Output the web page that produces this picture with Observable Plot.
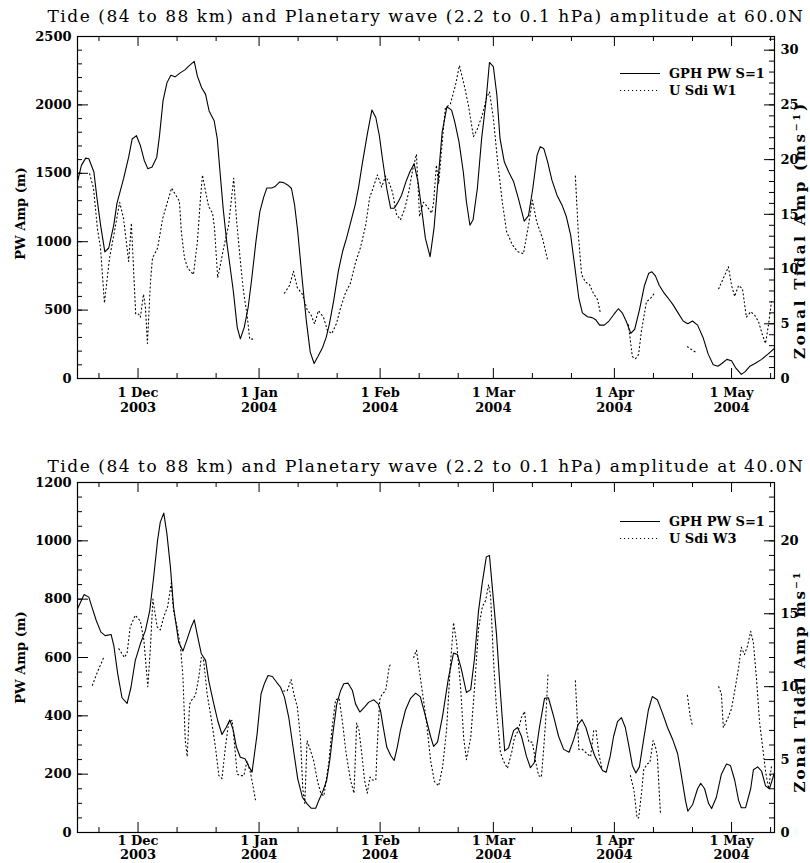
<!DOCTYPE html>
<html>
<head>
<meta charset="utf-8">
<script src="https://cdn.jsdelivr.net/npm/d3@7"></script>
<script src="https://cdn.jsdelivr.net/npm/@observablehq/plot@0.6"></script>
<style>
html,body{margin:0;padding:0;background:#fff;}
body{position:relative;width:810px;height:863px;overflow:hidden;font-family:"DejaVu Serif",serif;color:#000;}
.panel{position:absolute;left:0;}
.title{position:absolute;left:0;width:852px;text-align:center;white-space:nowrap;font-family:"DejaVu Serif",serif;font-size:17px;line-height:20px;}
.legend{position:absolute;left:612px;overflow:visible;}
</style>
</head>
<body>
<div id="p1" class="panel" style="top:0px"></div>
<div id="p2" class="panel" style="top:440px"></div>
<div id="t1" class="title" style="top:6px">Tide (84 to 88 km) and Planetary wave (2.2 to 0.1 hPa) amplitude at 60.0N</div>
<div id="t2" class="title" style="top:456px">Tide (84 to 88 km) and Planetary wave (2.2 to 0.1 hPa) amplitude at 40.0N</div>
<script>
// ---- data: [days since 1 Dec 2003, value]; null marks a gap in the record ----
const pw60 = [[-15.5,1440],[-14.5,1558],[-13.4,1611],[-12.6,1606],[-11.3,1509],[-10.5,1316],[-9.6,1123],[-8.5,925],[-7.5,954],[-6.2,1123],[-5.4,1280],[-3.7,1461],[-2.4,1618],[-1.5,1751],[-0.4,1775],[0.6,1703],[1.6,1594],[2.5,1534],[3.6,1546],[4.8,1618],[5.5,1775],[6.4,2029],[7.4,2161],[8.4,2217],[9.5,2205],[10.8,2234],[12.1,2258],[12.9,2282],[14.4,2318],[15.2,2210],[16.3,2125],[17.3,2077],[18.2,1956],[19.5,1884],[20.3,1751],[21.0,1509],[21.8,1244],[22.7,1002],[23.5,833],[24.4,640],[25.4,374],[26.2,290],[27.2,374],[28.2,519],[29.1,724],[30.2,1002],[31.2,1220],[32.2,1328],[33.0,1393],[34.2,1393],[35.0,1401],[36.3,1437],[37.3,1432],[38.4,1413],[39.3,1389],[40.1,1268],[40.9,1075],[42.0,737],[43.1,423],[44.1,193],[45.1,110],[46.0,157],[47.3,229],[48.2,302],[49.0,398],[50.1,568],[51.3,785],[52.4,930],[53.4,1026],[54.5,1147],[55.6,1268],[56.5,1401],[57.5,1582],[58.8,1799],[59.9,1963],[60.9,1908],[61.8,1775],[62.6,1606],[63.7,1389],[64.7,1244],[65.6,1244],[66.4,1280],[67.5,1340],[68.6,1437],[69.6,1509],[70.7,1570],[71.7,1438],[72.5,1267],[73.6,1024],[74.8,890],[75.8,1097],[76.8,1438],[77.9,1803],[79.1,1986],[80.3,1962],[81.1,1877],[82.2,1730],[83.3,1511],[84.1,1292],[85.0,1120],[85.8,1160],[86.9,1389],[88.0,1755],[89.1,2023],[90.0,2310],[91.0,2279],[91.9,2072],[92.7,1755],[93.8,1584],[94.9,1511],[96.2,1438],[97.4,1316],[98.9,1150],[100.0,1190],[101.1,1389],[102.2,1633],[103.0,1694],[103.9,1682],[104.9,1584],[106.0,1450],[107.3,1340],[108.6,1267],[109.7,1182],[110.8,1048],[111.8,829],[112.9,585],[113.8,480],[115.1,451],[116.3,445],[117.2,430],[118.2,390],[119.4,390],[120.6,420],[121.9,470],[123.0,510],[124.0,480],[125.0,420],[126.2,330],[127.2,360],[128.4,500],[129.7,680],[130.8,770],[131.6,780],[132.5,750],[133.5,680],[134.6,630],[135.7,590],[137.0,540],[138.3,480],[139.6,420],[140.8,400],[142.0,420],[143.3,390],[144.7,300],[146.0,180],[147.3,100],[148.5,90],[149.5,110],[150.8,140],[152.0,130],[153.0,80],[154.5,30],[155.5,50],[156.7,90],[158.0,110],[159.7,140],[161.4,180],[163.0,220]];

const tide60 = [[-12.4,18.7],[-11.4,17.4],[-10.4,13.7],[-9.6,11.9],[-8.6,6.9],[-7.3,11.0],[-6.0,13.5],[-4.7,16.1],[-3.7,14.6],[-2.4,10.7],[-1.7,14.2],[-0.6,5.9],[0.1,5.9],[0.6,5.6],[1.4,7.7],[1.9,6.5],[2.4,3.2],[3.2,8.9],[3.7,11.0],[5.0,11.9],[6.3,14.6],[7.6,16.2],[8.6,17.4],[9.6,16.8],[10.6,16.2],[11.1,13.4],[11.9,11.0],[12.7,10.1],[13.4,9.8],[14.2,9.5],[15.2,12.5],[16.0,16.5],[16.5,18.6],[17.3,17.1],[18.1,15.7],[19.1,15.1],[19.6,13.7],[20.4,9.2],[21.1,10.4],[21.9,11.9],[23.2,14.0],[24.5,18.3],[25.2,14.6],[26.3,10.4],[27.0,8.0],[28.0,5.6],[28.6,3.6],[29.8,3.6],
[33,null],
[37.5,7.8],[38.8,8.5],[39.8,9.8],[40.8,8.3],[42.1,7.7],[43.4,6.2],[44.2,5.9],[45.2,5.0],[46.2,6.2],[47.5,5.6],[48.5,4.4],[49.6,4.1],[50.8,5.0],[51.9,6.5],[53.1,7.8],[54.4,8.7],[55.7,10.6],[57.0,12.0],[58.3,14.0],[59.3,16.5],[60.3,17.5],[61.3,18.6],[62.4,17.5],[63.4,18.5],[64.4,17.8],[65.2,17.0],[66.2,15.0],[67.2,14.5],[68.3,15.5],[69.3,17.0],[70.3,19.0],[71.3,20.5],[72.1,14.8],[73.1,16.1],[74.1,15.7],[75.2,15.1],[75.7,16.1],[76.4,19.5],[77.0,17.8],[78.0,22.0],[78.7,24.7],[80.0,25.1],[81.3,26.8],[82.3,28.6],[83.6,26.7],[84.6,25.0],[85.9,22.1],[86.9,22.8],[88.2,24.1],[89.2,25.6],[90.0,26.2],[91.0,23.8],[92.1,19.8],[93.3,16.1],[94.4,13.4],[95.9,12.2],[97.2,11.6],[98.7,11.4],[100.0,14.0],[101.0,16.3],[102.1,14.3],[103.6,12.8],[104.9,10.8],
[108,null],
[112.0,18.5],[112.8,13.0],[113.6,9.5],[114.6,8.8],[115.6,8.6],[116.6,7.8],[117.7,7.2],[118.4,6.0],
[122,null],
[125.6,4.9],[126.6,2.0],[127.4,1.8],[128.2,2.2],[128.9,4.3],[130.2,7.0],[131.2,7.3],[132.5,7.9],
[136,null],
[140.7,2.9],[142.8,2.4],
[145,null],
[148.7,8.2],[149.7,9.0],[151.2,10.2],[152.0,8.5],[152.8,7.5],[153.8,8.5],[154.8,8.2],[155.8,5.6],[156.9,6.1],[157.9,5.8],[158.9,5.2],[159.9,4.0],[160.7,3.2],[161.5,5.0],[162.2,7.0]];

const pw40 = [[-15.5,767],[-13.8,816],[-12.6,807],[-11.8,773],[-10.7,727],[-9.5,687],[-8.4,675],[-6.9,679],[-6.2,641],[-5.2,544],[-4.1,462],[-2.8,443],[-1.8,498],[-0.7,590],[0.6,647],[1.9,693],[3.0,761],[4.0,875],[5.0,1001],[5.7,1064],[6.6,1095],[7.4,1024],[8.3,910],[9.1,773],[10.4,653],[11.5,622],[12.6,664],[13.6,704],[14.4,729],[15.3,670],[16.2,613],[17.3,590],[18.1,521],[19.2,453],[20.4,384],[21.5,336],[22.6,361],[23.5,386],[24.4,350],[25.2,293],[26.2,258],[27.4,253],[28.4,226],[29.2,207],[30.5,338],[31.5,475],[32.4,512],[33.3,538],[34.4,535],[35.5,515],[36.5,498],[37.5,464],[38.6,395],[39.7,293],[40.9,184],[42.1,121],[43.3,98],[44.4,83],[45.5,83],[46.3,110],[47.4,144],[48.3,178],[49.1,247],[50.0,350],[50.9,441],[51.9,487],[52.7,510],[53.8,512],[54.9,487],[55.7,441],[56.8,413],[58.0,430],[59.1,447],[60.4,455],[61.5,441],[62.1,418],[62.8,361],[63.7,293],[64.7,264],[65.6,247],[66.4,293],[67.2,350],[68.5,420],[69.8,460],[71.1,478],[72.3,465],[73.6,400],[74.9,330],[75.7,295],[76.7,310],[78.0,400],[79.5,530],[80.8,615],[81.8,610],[82.8,560],[84.1,480],[85.2,490],[86.2,600],[87.2,760],[88.2,860],[89.2,945],[90.0,950],[90.8,830],[91.8,680],[92.8,480],[93.9,280],[94.9,290],[96.2,350],[97.2,360],[98.2,330],[99.5,260],[100.5,222],[101.5,240],[102.8,360],[104.1,460],[105.1,462],[106.4,400],[107.7,330],[109.0,285],[110.4,275],[111.6,320],[112.7,370],[113.7,387],[114.7,360],[115.8,310],[116.9,265],[118.0,235],[119.0,212],[119.9,207],[120.9,260],[121.8,330],[122.8,380],[123.8,394],[124.8,360],[125.8,290],[126.6,230],[127.5,204],[128.4,225],[129.5,320],[130.7,420],[131.7,466],[133.0,455],[134.3,410],[135.6,360],[136.9,320],[138.2,270],[139.1,200],[140.2,110],[140.8,73],[142.0,95],[143.3,150],[144.1,169],[145.1,150],[146.1,100],[146.9,82],[148.1,120],[149.4,200],[150.7,235],[151.7,230],[152.8,180],[153.8,110],[154.5,85],[155.6,85],[156.9,150],[157.6,215],[158.7,225],[159.7,210],[160.7,160],[161.7,150],[163.0,205]];

const tide40 = [[-11.7,10.1],[-10.4,11.0],[-8.8,12.0],
[-7,null],
[-4.9,12.6],[-3.5,12.0],[-2.8,12.3],[-2.0,14.1],[-0.7,14.9],[0.6,14.5],[1.5,13.2],[2.1,11.3],[2.5,10.0],[3.2,12.8],[3.8,16.0],[4.9,14.1],[5.7,13.9],[6.6,14.8],[7.6,15.5],[8.5,17.1],[9.1,15.2],[10.0,14.1],[10.9,12.7],[11.5,10.7],[12.1,6.3],[12.6,5.2],[13.2,8.8],[13.8,9.1],[14.7,9.4],[15.6,10.7],[16.2,12.0],[16.8,11.8],[17.7,9.5],[18.7,7.9],[19.8,5.9],[20.7,3.9],[21.5,3.7],[22.4,5.9],[23.2,7.5],[24.1,7.7],[24.7,6.1],[25.4,4.0],[26.2,3.9],[27.1,3.9],[27.9,4.9],[28.8,4.1],[29.5,3.1],[30.1,2.2],
[34,null],
[37.3,9.7],[38.2,9.7],[39.2,10.5],[39.9,9.5],[40.8,8.6],[41.6,6.5],[42.2,3.0],[42.7,2.0],[43.3,6.3],[44.2,5.6],[45.0,4.9],[45.9,3.6],[46.8,2.7],[47.6,2.5],[48.9,4.9],[49.7,7.2],[50.6,9.1],[51.5,9.2],[52.4,7.5],[53.2,5.6],[54.4,3.6],[55.3,2.7],[56.0,7.5],[56.6,7.0],[57.3,5.4],[58.0,3.6],[58.7,2.7],[59.4,3.8],[60.0,3.6],[60.9,3.6],[61.2,5.6],[61.9,9.1],[62.5,9.5],[63.4,9.7],[64.3,11.3],[64.7,11.6],
[67,null],
[70.6,12.0],[71.3,12.5],[72.1,11.0],[72.9,9.5],[73.9,7.5],[74.9,5.0],[75.9,3.5],[77.0,3.2],[78.0,4.5],[79.0,7.0],[80.0,11.5],[80.8,14.4],[81.6,13.0],[82.6,10.0],[83.4,6.5],[84.1,5.0],[85.2,6.5],[86.2,10.0],[87.2,14.0],[88.2,15.5],[89.0,15.9],[89.8,17.0],[90.3,16.2],[91.0,12.0],[91.8,8.5],[92.8,5.5],[93.6,4.9],[94.6,4.4],[95.7,5.5],[96.4,6.5],[97.4,7.0],[98.2,7.9],[99.0,8.3],[99.5,7.0],[100.1,6.2],[101.0,6.2],[101.8,4.9],[102.6,3.9],[103.3,3.8],[103.9,5.8],[104.4,7.7],[105.0,10.9],
[108,null],
[112.0,10.4],[112.9,5.7],[113.8,5.7],[115.0,5.4],[115.9,5.2],[116.7,7.0],[117.3,7.0],[118.0,5.4],[118.9,4.3],
[122,null],
[126.1,3.9],[127.0,2.9],[127.8,1.0],[128.2,1.0],[128.9,2.6],[129.5,4.3],[130.4,4.7],[131.1,4.8],[131.9,6.3],[132.5,5.9],[133.0,5.2],[133.6,2.2],[133.8,1.3],
[137,null],
[140.7,9.4],[141.4,8.0],[142.0,7.3],
[145,null],
[148.7,10.0],[149.4,9.5],[149.9,7.2],[151.0,7.8],[152.0,8.5],[153.0,10.0],[153.8,11.3],[154.5,12.7],[155.3,12.2],[156.1,12.8],[156.9,13.8],[157.6,13.0],[158.4,10.5],[159.2,7.5],[159.9,6.0],[160.7,4.2],[161.5,3.0],[162.2,4.5]];

// ---- axes ----
const monthTicks = ["2003-12-01","2004-01-01","2004-02-01","2004-03-01","2004-04-01","2004-05-01"];
const dayTicks = ["2003-11-21","2003-12-11","2003-12-21","2004-01-11","2004-01-21","2004-02-11","2004-02-21","2004-03-11","2004-03-21","2004-04-11","2004-04-21","2004-05-11"];
const xDomainDays = [-15.5, 163];
const pwTicks60 = [0, 500, 1000, 1500, 2000, 2500];
const tideTicks60 = [0, 5, 10, 15, 20, 25, 30];
const pwTicks40 = [0, 200, 400, 600, 800, 1000, 1200];
const tideTicks40 = [0, 5, 10, 15, 20];
const legendLabels = ["GPH PW S=1", "U Sdi W1", "U Sdi W3"];

const origin = Date.UTC(2003, 11, 1);
const toDate = d => new Date(origin + d * 864e5);

function panel(o) {
  const k = o.pwMax / o.tideMax;
  const W = 810 - 77 - 36;
  const H = o.height - o.marginTop - o.marginBottom;
  const minorPw = d3.range(0, o.pwMax + 1e-9, o.pwMinor);
  const minorTide = d3.range(0, o.tideMax + 1e-9, 1);
  const months = monthTicks.map(s => new Date(s));
  const days = dayTicks.map(s => new Date(s));
  const svg = Plot.plot({
    width: 810, height: o.height,
    marginLeft: 77, marginRight: 36, marginTop: o.marginTop, marginBottom: o.marginBottom,
    style: {fontFamily: "'DejaVu Serif', serif", fontSize: "13px", fontWeight: "bold", color: "black", background: "transparent", overflow: "visible"},
    x: {type: "utc", domain: xDomainDays.map(toDate)},
    y: {domain: [0, o.pwMax]},
    marks: [
      Plot.tickY(minorPw, {y: d => d, insetRight: W - 5, stroke: "black"}),
      Plot.tickY(o.pwTicks, {y: d => d, insetRight: W - 11, stroke: "black"}),
      Plot.tickY(minorTide, {y: d => d * k, insetLeft: W - 5, stroke: "black"}),
      Plot.tickY(o.tideTicks, {y: d => d * k, insetLeft: W - 10, stroke: "black"}),
      Plot.tickX(days, {x: d => d, insetTop: H - 5, stroke: "black"}),
      Plot.tickX(days, {x: d => d, insetBottom: H - 5, stroke: "black"}),
      Plot.tickX(months, {x: d => d, insetTop: H - 10, stroke: "black"}),
      Plot.tickX(months, {x: d => d, insetBottom: H - 10, stroke: "black"}),
      Plot.frame({stroke: "black", strokeWidth: 1.2}),
      Plot.axisX(months, {tickSize: 0, tickPadding: o.xPad, lineHeight: o.xLine, label: null, tickFormat: d3.utcFormat("%-d %b\n%Y")}),
      Plot.axisY(o.pwTicks, {anchor: "left", tickSize: 0, tickPadding: 6, label: null, tickFormat: d => String(d)}),
      Plot.axisY(o.tideTicks.map(v => v * k), {anchor: "right", tickSize: 0, tickPadding: 6, label: null, tickFormat: v => String(Math.round(v / k))}),
      Plot.line(o.pw, {x: d => toDate(d[0]), y: d => d[1], stroke: "black", strokeWidth: 1.1, clip: true}),
      Plot.line(o.tide, {x: d => toDate(d[0]), y: d => d[1] == null ? NaN : d[1] * k, stroke: "black", strokeWidth: 1.1, strokeDasharray: "1.1,2.9", clip: true}),
      Plot.text(["PW Amp (m)"], {text: d => d, frameAnchor: "left", textAnchor: "middle", rotate: -90, dx: -57, dy: o.leftDy, fontSize: 13, fontWeight: "bold"}),
      Plot.text([o.rightLabel], {text: d => d, frameAnchor: "right", textAnchor: "middle", rotate: -90, dx: 26, dy: o.rightDy, fontSize: 15, fontWeight: "bold"})
    ]
  });
  // stretch the right-hand axis title to the length it has in the original
  d3.select(svg).selectAll("text").filter(function() { return this.textContent === o.rightLabel; })
    .attr("textLength", o.rightLen).attr("lengthAdjust", "spacing");
  return svg;
}

document.getElementById("p1").append(panel({
  pw: pw60, tide: tide60, pwMax: 2500, tideMax: 31.25, pwMinor: 100,
  pwTicks: pwTicks60, tideTicks: tideTicks60,
  height: 440, marginTop: 36, marginBottom: 62, leftDy: 6, rightDy: 24, rightLen: 255,
  xPad: 7, xLine: 1.2,
  rightLabel: "Zonal Tidal Amp (ms\u207B\u00B9)"
}));
document.getElementById("p2").append(panel({
  pw: pw40, tide: tide40, pwMax: 1200, tideMax: 24, pwMinor: 50,
  pwTicks: pwTicks40, tideTicks: tideTicks40,
  height: 423, marginTop: 42, marginBottom: 31, leftDy: 0, rightDy: 25, rightLen: 220,
  xPad: 3, xLine: 1.05,
  rightLabel: "Zonal Tidal Amp ms\u207B\u00B9"
}));

// legends (inside the plot area, top right)
function legend(top, solidLabel, dottedLabel) {
  const svg = d3.select("body").append("svg")
    .attr("class", "legend").attr("width", 196).attr("height", 36)
    .style("top", top + "px")
    .style("font-family", "'DejaVu Serif', serif").style("font-size", "13px").style("font-weight", "bold");
  svg.append("line").attr("x1", 8).attr("x2", 48).attr("y1", 8.5).attr("y2", 8.5).attr("stroke", "black").attr("stroke-width", 1.1);
  svg.append("text").attr("x", 57).attr("y", 13).text(solidLabel);
  svg.append("line").attr("x1", 8).attr("x2", 48).attr("y1", 25.5).attr("y2", 25.5).attr("stroke", "black").attr("stroke-width", 1.1).attr("stroke-dasharray", "1.1,2.9");
  svg.append("text").attr("x", 57).attr("y", 30).text(dottedLabel);
}
legend(65, legendLabels[0], legendLabels[1]);
legend(513, legendLabels[0], legendLabels[2]);

// fit titles to the width of the original
const ctx = document.createElement("canvas").getContext("2d");
for (const id of ["t1", "t2"]) {
  const el = document.getElementById(id);
  ctx.font = "17px 'DejaVu Serif'";
  const w = ctx.measureText(el.textContent).width;
  const n = el.textContent.length;
  el.style.letterSpacing = ((757 - w) / n) + "px";
}
</script>
</body>
</html>
